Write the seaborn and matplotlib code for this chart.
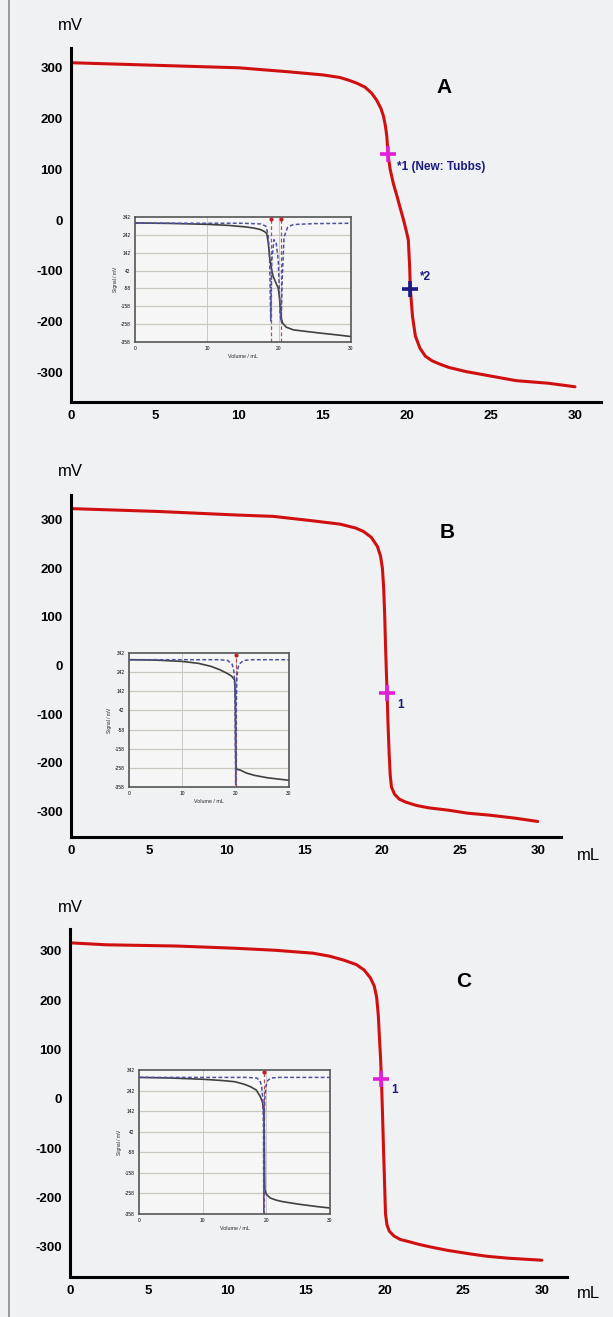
import numpy as np
import pandas as pd
import matplotlib
matplotlib.use("Agg")
import matplotlib.pyplot as plt
import seaborn as sns

# ---------------- data ----------------
x_ticks = [0, 5, 10, 15, 20, 25, 30]
y_ticks = [-300, -200, -100, 0, 100, 200, 300]
inset_x_ticks = [0, 10, 20, 30]
inset_y_ticks = [-358, -258, -158, -58, 42, 142, 242, 342]

vol_A = [0, 5, 10, 13, 15, 16, 16.5, 17, 17.5, 17.9, 18.2, 18.45, 18.6, 18.72, 18.8, 18.87,
         19.0, 19.19, 19.4, 19.58, 19.8, 19.95, 20.08, 20.16, 20.2, 20.33, 20.5, 20.77,
         21.1, 21.5, 22, 22.5, 23.5, 25, 26.5, 28.4, 30]
mv_A = [310, 305, 300, 292, 286, 281, 276, 270, 262, 250, 236, 220, 205, 185, 165, 130,
        100, 72, 48, 26, 0, -20, -39, -92, -135, -190, -228, -252,
        -268, -277, -284, -290, -298, -307, -316, -321, -328]
ep_A = [(18.87, 130), (20.2, -135)]

vol_B = [0, 5.7, 10.5, 13, 15.5, 17.3, 18.3, 18.8, 19.3, 19.7, 19.9, 20.02, 20.1, 20.17,
         20.22, 20.27, 20.32, 20.38, 20.45, 20.52, 20.6, 20.8, 21.1, 21.5, 22.2, 23, 24.3,
         25.5, 26.9, 28.5, 30]
mv_B = [323, 317, 310, 307, 298, 291, 283, 276, 264, 245, 225, 200, 160, 100,
        40, -10, -57, -120, -180, -225, -250, -265, -275, -281, -288, -293, -298,
        -304, -308, -314, -321]
ep_B = [(20.32, -57)]

vol_C = [0, 2.3, 6.8, 10.5, 13, 15.45, 16.5, 17.4, 18.2, 18.7, 19.1, 19.35, 19.5, 19.6,
         19.68, 19.75, 19.8, 19.87, 19.93, 20.0, 20.06, 20.15, 20.3, 20.6, 21.0, 21.5, 22.2,
         22.9, 24, 25.4, 26.5, 27.9, 30]
mv_C = [316, 312, 309.5, 305, 301, 295, 289, 281, 272, 261, 245, 228, 205, 170,
        120, 80, 40, -30, -98, -170, -233, -255, -268, -278, -285, -289, -295,
        -300, -307, -314, -319, -323, -327]
ep_C = [(19.8, 40)]

# inset curves (signal vs volume, solid = titration, dashed = derivative)
ins_vol_A = [0, 5, 10, 13, 15.5, 16.5, 17.4, 18, 18.3, 18.5, 18.75, 19.0, 19.2, 19.5, 19.9,
             20.1, 20.2, 20.35, 20.5, 21, 22, 24, 25.7, 28, 29.9]
ins_sig_A = [309, 306, 301, 295, 286, 280, 272, 260, 249, 200, 100, 40, 8, -20, -57,
             -120, -178, -230, -252, -275, -290, -300, -308, -318, -327]
ins_dvol_A = [0, 15, 17.5, 18.2, 18.5, 18.7, 18.85, 19.0, 19.3, 19.6, 19.9, 20.15, 20.3,
              20.45, 20.7, 21.2, 22, 25, 30]
ins_dsig_A = [307, 307, 303, 290, 240, 100, -240, 100, 215, 200, 100, -200, -245,
              0, 230, 285, 300, 305, 307]
ins_ep_A = [18.85, 20.3]

ins_vol_B = [0, 5, 10, 13, 15.4, 17, 18.3, 19.2, 19.8, 19.93, 19.98, 20.03, 20.3, 20.9, 22,
             23.5, 26, 30]
ins_sig_B = [307, 305, 298, 288, 272, 255, 237, 222, 202, 120, -100, -262, -266, -270, -285,
             -297, -310, -323]
ins_dvol_B = [0, 17, 18.5, 19.3, 19.6, 19.8, 19.9, 20.0, 20.1, 20.2, 20.4, 20.7, 21.5, 23, 30]
ins_dsig_B = [307, 307, 303, 285, 260, 200, 60, -350, 60, 200, 260, 285, 303, 307, 307]
ins_ep_B = [20.0]

ins_vol_C = [0, 5, 10, 13, 15.06, 16.5, 17.5, 18.4, 19.05, 19.4, 19.6, 19.67, 19.72, 19.76,
             20, 20.6, 21.5, 22.4, 25, 28, 30]
ins_sig_C = [306, 303, 297, 291, 285, 273, 261, 245, 213, 185, 140, 50, -150, -240,
             -262, -280, -290, -297, -310, -322, -329]
ins_dvol_C = [0, 17, 18.5, 19.0, 19.25, 19.45, 19.55, 19.6, 19.65, 19.75, 19.95, 20.2, 20.7, 22, 30]
ins_dsig_C = [306, 306, 303, 290, 265, 200, 60, -350, 60, 200, 265, 290, 303, 306, 306]
ins_ep_C = [19.6]

# ---------------- style / layout ----------------
sns.set_theme(style="white")
plt.rcParams["font.family"] = ["Liberation Sans", "DejaVu Sans"]
plt.rcParams["text.color"] = "black"
plt.rcParams["xtick.labelcolor"] = "black"
plt.rcParams["ytick.labelcolor"] = "black"

W, H = 613, 1317
BG = "#f0f1f3"
fig = plt.figure(figsize=(W / 100, H / 100), dpi=100, facecolor=BG)


def px_axes(x0, y0, x1, y1):
    return fig.add_axes([x0 / W, 1 - y1 / H, (x1 - x0) / W, (y1 - y0) / H])


RED = "#d01010"
NAVY = "#1a1a80"
MAG = "#e020d8"
BOLD = dict(family=["Liberation Sans", "DejaVu Sans"], weight="bold")

panels = [
    dict(vol=vol_A, mv=mv_A, ep=ep_A, box=(71, 48, 601, 402), xlim=(0, 31.55), ylim=(-358, 339),
         letter="A", letter_pos=(22.2, 262), ep_cols=[MAG, NAVY],
         ep_txt=[("*1 (New: Tubbs)", 19.4, 104), ("*2", 20.75, -112)],
         mv_pos=(70, 26), ml_pos=None,
         ins_box=(135, 217, 351, 342), ins=(ins_vol_A, ins_sig_A, ins_dvol_A, ins_dsig_A, ins_ep_A)),
    dict(vol=vol_B, mv=mv_B, ep=ep_B, box=(71, 495, 561, 837), xlim=(0, 31.5), ylim=(-353, 351),
         letter="B", letter_pos=(24.2, 273), ep_cols=[MAG],
         ep_txt=[("1", 20.95, -81)],
         mv_pos=(70, 472), ml_pos=(588, 856),
         ins_box=(129, 653, 289, 787), ins=(ins_vol_B, ins_sig_B, ins_dvol_B, ins_dsig_B, ins_ep_B)),
    dict(vol=vol_C, mv=mv_C, ep=ep_C, box=(70, 929, 567, 1277), xlim=(0, 31.6), ylim=(-361, 344),
         letter="C", letter_pos=(25.0, 237), ep_cols=[MAG],
         ep_txt=[("1", 20.45, 17)],
         mv_pos=(70, 907), ml_pos=(588, 1294),
         ins_box=(139, 1070, 330, 1214), ins=(ins_vol_C, ins_sig_C, ins_dvol_C, ins_dsig_C, ins_ep_C)),
]

for p in panels:
    ax = px_axes(*p["box"])
    ax.set_facecolor("none")
    df = pd.DataFrame({"vol": p["vol"], "mv": p["mv"]})
    sns.lineplot(data=df, x="vol", y="mv", ax=ax, color=RED, lw=2.2, estimator=None, sort=False)
    for (ex, ey), c in zip(p["ep"], p["ep_cols"]):
        ax.plot([ex], [ey], marker="+", ms=11, mew=2.6, color=c, zorder=5)
    for t, tx, ty in p["ep_txt"]:
        ax.text(tx, ty, t, color=NAVY, fontsize=8.5, ha="left", va="center", **BOLD)
    ax.text(*p["letter_pos"], p["letter"], fontsize=15, color="black",
            ha="center", va="center", **BOLD)
    ax.set_xlim(*p["xlim"])
    ax.set_ylim(*p["ylim"])
    ax.set_xticks(x_ticks)
    ax.set_yticks(y_ticks)
    ax.set_xticklabels([str(v) for v in x_ticks], fontsize=9.5, color="black", **BOLD)
    ax.set_yticklabels([str(v) for v in y_ticks], fontsize=9.5, color="black", **BOLD)
    ax.set_xlabel("")
    ax.set_ylabel("")
    for s in ["top", "right"]:
        ax.spines[s].set_visible(False)
    for s in ["left", "bottom"]:
        ax.spines[s].set_color("black")
        ax.spines[s].set_linewidth(2.2)
    ax.tick_params(axis="both", direction="inout", length=6, width=1.6, color="black", pad=3)
    ax.grid(False)
    fig.text(p["mv_pos"][0] / W, 1 - p["mv_pos"][1] / H, "mV", fontsize=12, ha="center",
             va="center", color="black")
    if p["ml_pos"]:
        fig.text(p["ml_pos"][0] / W, 1 - p["ml_pos"][1] / H, "mL", fontsize=12, ha="center",
                 va="center", color="black")

    # inset
    iv, isg, idv, ids, iep = p["ins"]
    ia = px_axes(*p["ins_box"])
    ia.set_facecolor("#f6f6f6")
    ia.set_xlim(0, 30)
    ia.set_ylim(-358, 342)
    for yt in inset_y_ticks[1:-1]:
        ia.axhline(yt, color="#c8c8c0", lw=0.9, zorder=0)
    for xt in [10, 20]:
        ia.axvline(xt, color="#c8c8c8", lw=0.7, zorder=0)
    for e in iep:
        ia.axvline(e, color="#b05050", lw=0.9, ls=(0, (3, 2)), zorder=1)
        ia.plot([e], [330], "o", ms=2, color="#c02020", zorder=3)
    dfi = pd.DataFrame({"vol": iv, "sig": isg})
    sns.lineplot(data=dfi, x="vol", y="sig", ax=ia, color="#404040", lw=1.2, estimator=None, sort=False)
    dfd = pd.DataFrame({"vol": idv, "sig": ids})
    sns.lineplot(data=dfd, x="vol", y="sig", ax=ia, color="#5050a0", lw=1.1, ls=(0, (2.5, 1.5)),
                 estimator=None, sort=False)
    ia.set_xticks(inset_x_ticks)
    ia.set_yticks(inset_y_ticks)
    ia.set_xticklabels([str(v) for v in inset_x_ticks])
    ia.set_yticklabels([str(v) for v in inset_y_ticks])
    ia.tick_params(axis="both", labelsize=3.5, length=1.5, width=0.5, pad=1.5, color="#555")
    ia.set_xlabel("Volume / mL", fontsize=3.8, labelpad=2)
    ia.set_ylabel("Signal / mV", fontsize=3.5, labelpad=2)
    for s in ia.spines.values():
        s.set_color("#555555")
        s.set_linewidth(1.2)
        s.set_visible(True)
    ia.grid(False)

# left border line of the page
fig.add_artist(plt.Line2D([9 / W, 9 / W], [0, 1], color="#8a8a8a", lw=1.2))

fig.savefig("out.png", dpi=100, facecolor=BG)
